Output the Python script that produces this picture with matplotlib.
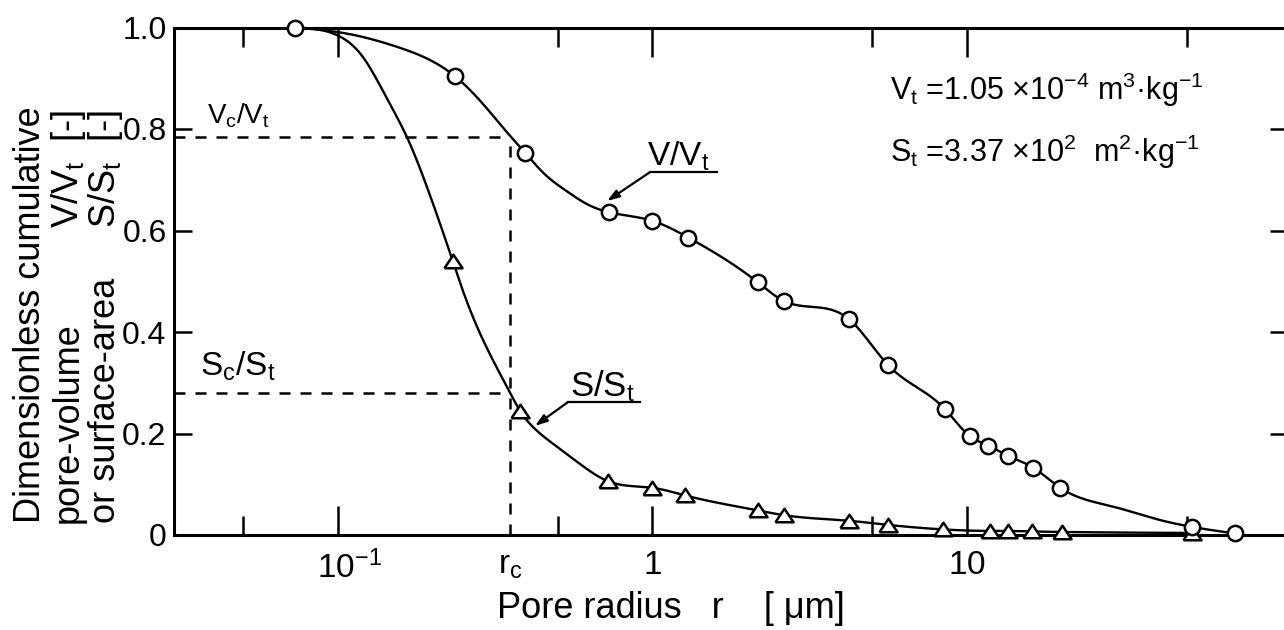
import numpy as np
import matplotlib
matplotlib.use('Agg')
import matplotlib.pyplot as plt
from matplotlib.ticker import FixedLocator, FixedFormatter, NullFormatter
from matplotlib.transforms import ScaledTranslation

plt.rcParams['font.family'] = ['Liberation Sans', 'DejaVu Sans']
plt.rcParams['mathtext.fontset'] = 'custom'
plt.rcParams['mathtext.rm'] = 'Liberation Sans'
plt.rcParams['mathtext.it'] = 'Liberation Sans:italic'
plt.rcParams['mathtext.default'] = 'rm'

# cumulative pore volume V/Vt (circles)
r_v = [0.0729, 0.2355, 0.394, 0.727, 1.0, 1.30, 2.16, 2.62, 4.22, 5.61,
       8.51, 10.2, 11.7, 13.5, 16.2, 19.8, 51.9, 71.1]
v_frac = [1.0, 0.904, 0.753, 0.636, 0.619, 0.586, 0.498, 0.461, 0.425, 0.335,
          0.248, 0.195, 0.176, 0.156, 0.133, 0.093, 0.016, 0.003]
# extra points along the drawn V/Vt curve (no symbol)
r_v_line = [0.1067, 0.154, 0.196, 0.298, 0.352, 0.449, 0.535, 0.619, 29.1, 40.2]
v_line = [0.988, 0.962, 0.936, 0.840, 0.787, 0.714, 0.677, 0.652, 0.056, 0.031]

# cumulative surface area S/St (triangles)
r_s = [0.232, 0.379, 0.722, 1.0, 1.27, 2.16, 2.62, 4.22, 5.6, 8.4,
       11.8, 13.5, 16.1, 20.0, 51.9]
s_frac = [0.539, 0.245, 0.106, 0.093, 0.078, 0.0485, 0.039, 0.028, 0.020, 0.011,
          0.008, 0.008, 0.007, 0.006, 0.004]
r_s_line = [0.0729, 0.0993, 0.120, 0.133, 0.1464, 0.1657, 0.196, 0.250, 0.277,
            0.352, 0.423, 0.497, 0.588]
s_line = [1.0, 0.985, 0.942, 0.897, 0.849, 0.784, 0.670, 0.480, 0.410,
          0.281, 0.209, 0.174, 0.140]

r_c = 0.352
vc_vt = 0.785
sc_st = 0.28

x_ticks = [0.1, 1, 10]
x_ticklabels = ['$10^{-1}$', '$1$', '$10$']
x_minor = [0.05, 0.5, 5, 50]
y_ticks = [0, 0.2, 0.4, 0.6, 0.8, 1.0]
y_ticklabels = ['0', '0.2', '0.4', '0.6', '0.8', '1.0']


def spline(x, y, xn):
    # natural cubic spline
    x = np.asarray(x, float)
    y = np.asarray(y, float)
    n = len(x)
    h = np.diff(x)
    A = np.zeros((n, n))
    b = np.zeros(n)
    A[0, 0] = A[-1, -1] = 1
    for i in range(1, n - 1):
        A[i, i - 1] = h[i - 1]
        A[i, i] = 2 * (h[i - 1] + h[i])
        A[i, i + 1] = h[i]
        b[i] = 3 * ((y[i + 1] - y[i]) / h[i] - (y[i] - y[i - 1]) / h[i - 1])
    c = np.linalg.solve(A, b)
    bb = np.diff(y) / h - h * (2 * c[:-1] + c[1:]) / 3
    d = np.diff(c) / (3 * h)
    i = np.clip(np.searchsorted(x, xn) - 1, 0, n - 2)
    dx = xn - x[i]
    return y[i] + bb[i] * dx + c[i] * dx**2 + d[i] * dx**3


def smooth(r1, y1, r2, y2, n=800):
    r = np.concatenate([r1, r2])
    y = np.concatenate([y1, y2])
    o = np.argsort(r)
    lx = np.log10(r[o])
    xn = np.linspace(lx[0], lx[-1], n)
    return 10**xn, np.minimum(spline(lx, y[o], xn), 1.0)


W, H = 1284, 630
fig = plt.figure(figsize=(W / 100, H / 100), dpi=100)
ax = fig.add_axes([173.5 / W, 95 / H, 1114.7 / W, 507.5 / H])
ax.set_xscale('log')
ax.set_xlim(0.03, 105)
ax.set_ylim(0, 1)

lw = 1.7
xv, yv = smooth(r_v, v_frac, r_v_line, v_line)
xs, ys = smooth(r_s, s_frac, r_s_line, s_line)
ax.plot(xv, yv, color='k', lw=lw, zorder=3, clip_on=False)
ax.plot(xs, ys, color='k', lw=lw, zorder=3, clip_on=False)

ax.plot(r_v, v_frac, ls='none', marker='o', ms=11, mfc='white', mec='k',
        mew=1.8, zorder=5, clip_on=False)
tri = [(-1, -0.75), (1, -0.75), (0, 0.75), (-1, -0.75)]
ax.plot(r_s, s_frac, ls='none', marker=tri, ms=13, mfc='white', mec='k',
        mew=1.8, zorder=4, clip_on=False)

# critical radius construction
dash = (0, (4.4, 4))
ax.plot([0.03, r_c], [vc_vt, vc_vt], color='k', lw=1.8, ls=dash, zorder=2)
ax.plot([0.03, r_c], [sc_st, sc_st], color='k', lw=1.8, ls=dash, zorder=2)
ax.plot([r_c, r_c], [0, vc_vt], color='k', lw=1.8, ls=dash, zorder=2)

for side in ['left', 'top', 'bottom', 'right']:
    ax.spines[side].set_linewidth(2.2)

ax.xaxis.set_major_locator(FixedLocator(x_ticks))
ax.xaxis.set_major_formatter(FixedFormatter(x_ticklabels))
ax.xaxis.set_minor_locator(FixedLocator(x_minor))
ax.xaxis.set_minor_formatter(NullFormatter())
ax.tick_params(axis='x', which='major', direction='in', top=True, bottom=True,
               length=21, width=1.8, labelsize=24, pad=11)
ax.tick_params(axis='x', which='minor', direction='in', top=True, bottom=True,
               length=14, width=1.8)
ax.set_yticks(y_ticks)
ax.set_yticklabels(y_ticklabels)
ax.tick_params(axis='y', direction='in', left=True, right=True,
               length=13, width=1.8, labelsize=23, pad=5)
ax.text(r_c, -0.03, 'r$_c$', transform=ax.get_xaxis_transform(),
        ha='center', va='top', fontsize=24)

# keep the "10" of 10^-1 centred on its tick
lbl = ax.xaxis.get_major_ticks()[0].label1
lbl.set_transform(lbl.get_transform() + ScaledTranslation(8 / 72, 0, fig.dpi_scale_trans))

# curve labels with leaders
ax.text(0.0383, 0.81, 'V$_c$/V$_t$', fontsize=20, va='baseline')
ax.text(0.0364, 0.314, 'S$_c$/S$_t$', fontsize=24, va='baseline')

ax.text(0.96, 0.727, 'V/V$_t$', fontsize=24, va='baseline')
ax.plot([0.982, 1.60], [0.715, 0.715], color='k', lw=1.6, clip_on=False)
ax.annotate('', xy=(0.717, 0.658), xytext=(0.982, 0.715),
            arrowprops=dict(arrowstyle='-|>,head_length=0.6,head_width=0.2',
                            color='k', lw=1.6, mutation_scale=12,
                            shrinkA=0, shrinkB=0))

ax.text(0.545, 0.274, 'S/S$_t$', fontsize=25, va='baseline')
ax.plot([0.539, 0.913], [0.262, 0.262], color='k', lw=1.6, clip_on=False)
ax.annotate('', xy=(0.423, 0.215), xytext=(0.539, 0.262),
            arrowprops=dict(arrowstyle='-|>,head_length=0.6,head_width=0.2',
                            color='k', lw=1.6, mutation_scale=12,
                            shrinkA=0, shrinkB=0))

# totals
fig.text(890 / W, 1 - 100 / H, 'V$_t$ =1.05 ×10$^{-4}$ m$^3$·kg$^{-1}$',
         fontsize=22, va='baseline')
fig.text(890 / W, 1 - 162 / H, 'S$_t$ =3.37 ×10$^2$  m$^2$·kg$^{-1}$',
         fontsize=22, va='baseline')

# axis titles
fig.text(497 / W, 1 - 618 / H, 'Pore radius   r    [ μm]', fontsize=26,
         va='baseline', ha='left')
ylab = dict(rotation=90, rotation_mode='anchor', va='baseline', fontsize=26)
fig.text(40 / W, 1 - 523 / H, 'Dimensionless cumulative', ha='left', **ylab)
fig.text(78 / W, 1 - 523 / H, 'pore-volume', ha='left', **ylab)
fig.text(78 / W, 1 - 110 / H, 'V/V$_t$  [-]', ha='right', **ylab)
fig.text(115 / W, 1 - 523 / H, 'or surface-area', ha='left', **ylab)
fig.text(115 / W, 1 - 110 / H, 'S/S$_t$  [-]', ha='right', **ylab)

fig.savefig('out.png', dpi=100)
